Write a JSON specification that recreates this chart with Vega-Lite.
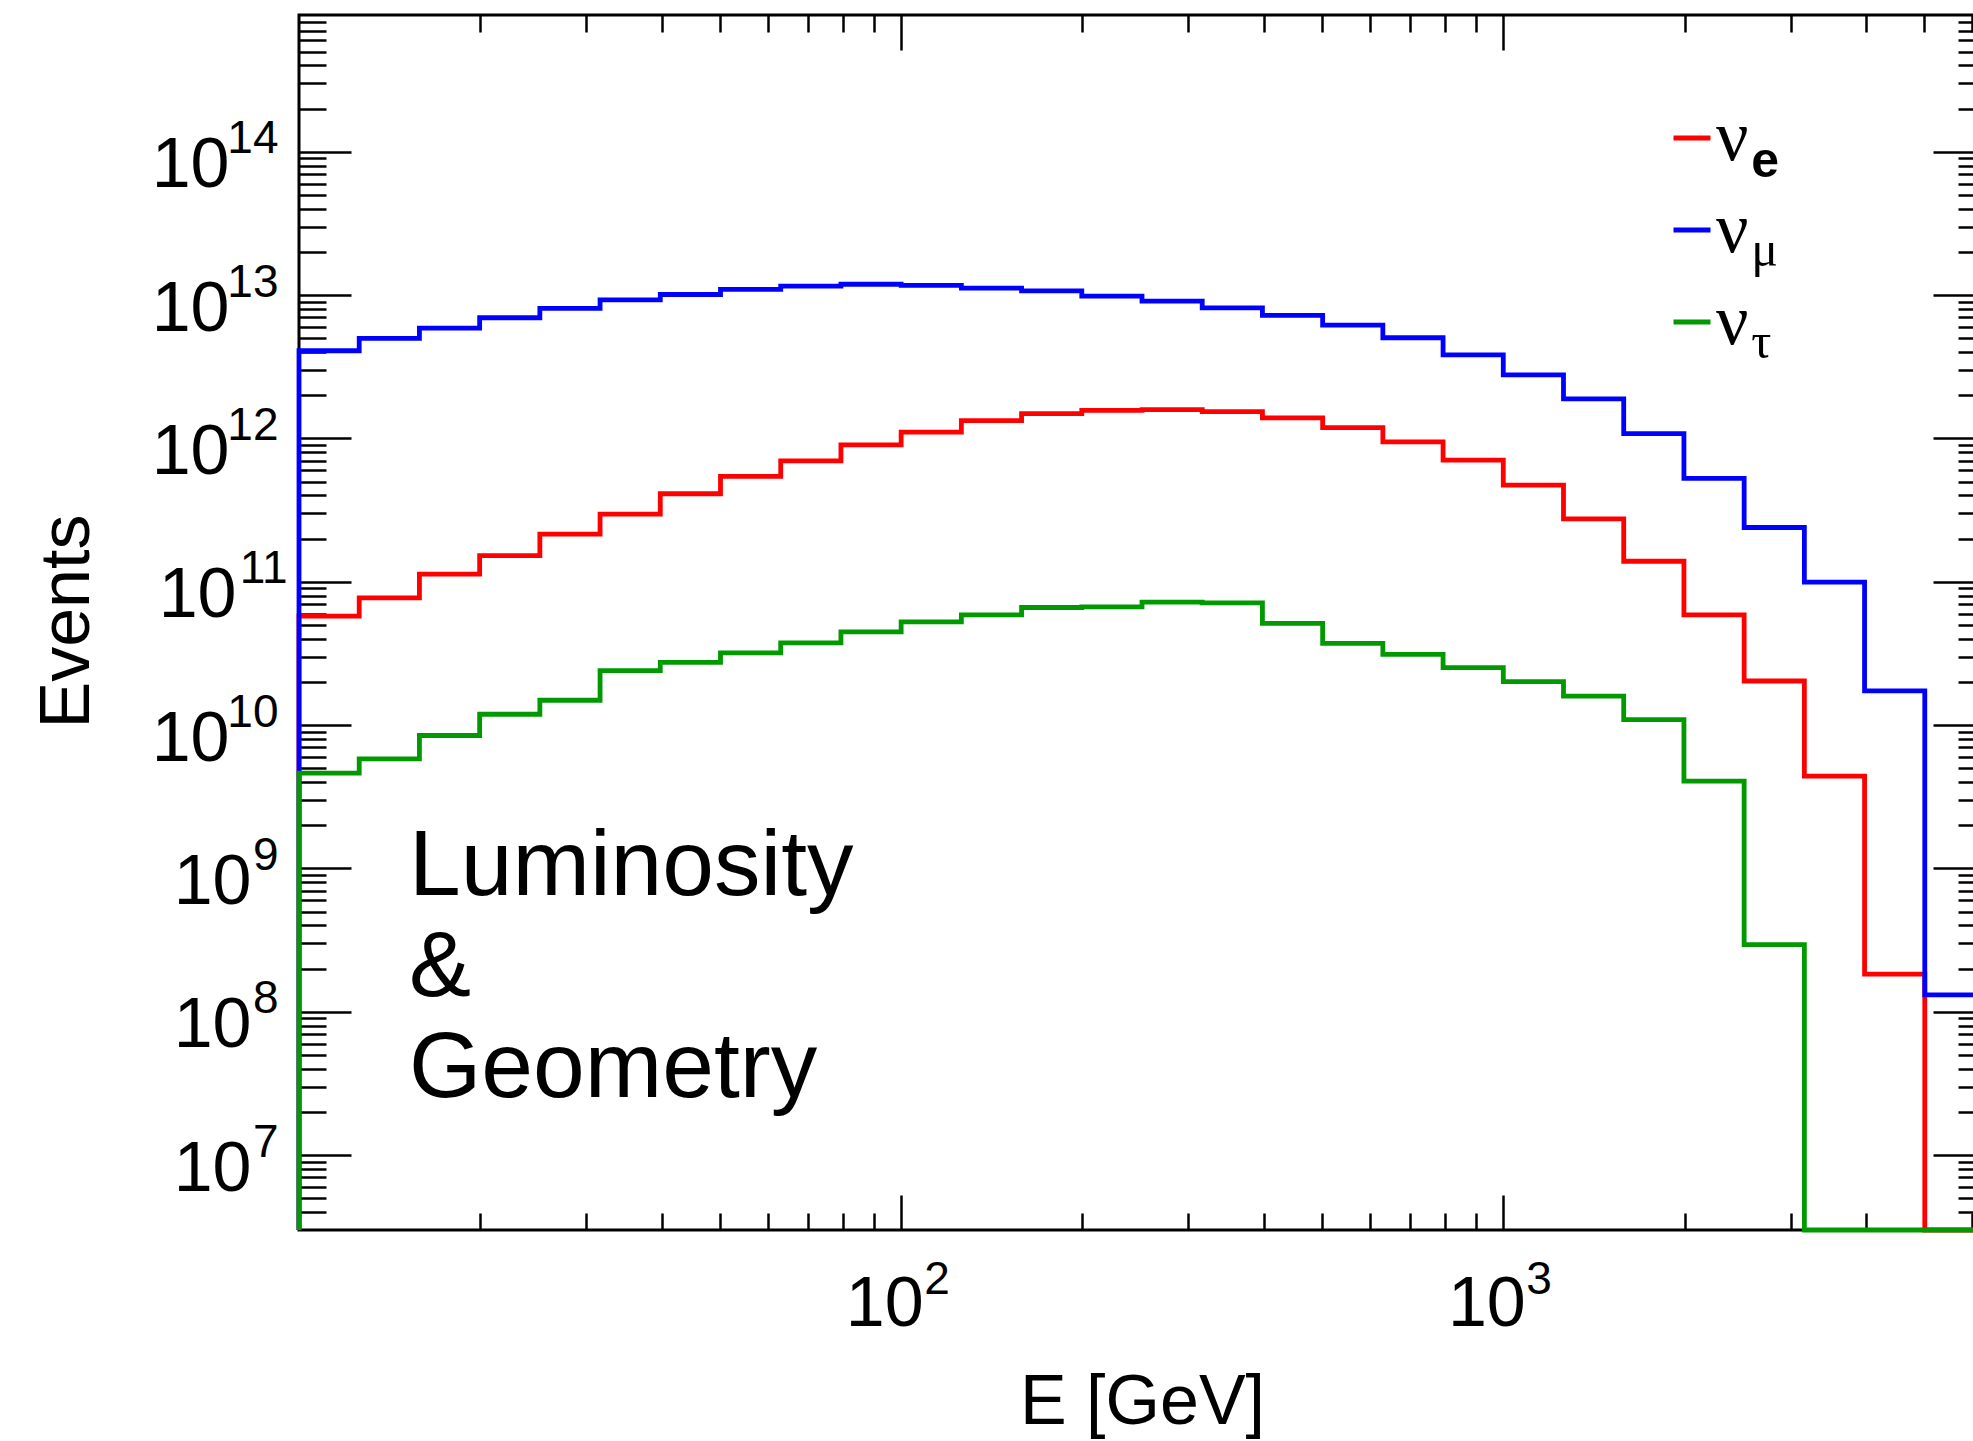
{
  "$schema": "https://vega.github.io/schema/vega-lite/v6.json",
  "width": 1686,
  "height": 1215,
  "autosize": {"type": "none"},
  "padding": {"left": 299, "top": 15, "right": -12, "bottom": 211},
  "background": "white",
  "config": {
    "view": {"stroke": "black", "strokeWidth": 3},
    "axis": {"labelFont": "Liberation Sans", "labelColor": "black", "tickColor": "black", "titleFont": "Liberation Sans", "titleColor": "black", "titleFontWeight": "normal", "grid": false, "domain": false, "labelOverlap": false, "labelFlush": false, "labelBound": false}
  },
  "datasets": {
    "hist": [
      {"flavor": "nu_e", "E": 10, "events": 0},
      {"flavor": "nu_e", "E": 10, "events": 5.75e10},
      {"flavor": "nu_e", "E": 12.589, "events": 7.72e10},
      {"flavor": "nu_e", "E": 15.849, "events": 1.13e11},
      {"flavor": "nu_e", "E": 19.953, "events": 1.52e11},
      {"flavor": "nu_e", "E": 25.119, "events": 2.15e11},
      {"flavor": "nu_e", "E": 31.623, "events": 2.96e11},
      {"flavor": "nu_e", "E": 39.811, "events": 4.11e11},
      {"flavor": "nu_e", "E": 50.119, "events": 5.43e11},
      {"flavor": "nu_e", "E": 63.096, "events": 6.98e11},
      {"flavor": "nu_e", "E": 79.433, "events": 9.02e11},
      {"flavor": "nu_e", "E": 100, "events": 1.107e12},
      {"flavor": "nu_e", "E": 125.89, "events": 1.33e12},
      {"flavor": "nu_e", "E": 158.49, "events": 1.49e12},
      {"flavor": "nu_e", "E": 199.53, "events": 1.57e12},
      {"flavor": "nu_e", "E": 251.19, "events": 1.59e12},
      {"flavor": "nu_e", "E": 316.23, "events": 1.54e12},
      {"flavor": "nu_e", "E": 398.11, "events": 1.39e12},
      {"flavor": "nu_e", "E": 501.19, "events": 1.19e12},
      {"flavor": "nu_e", "E": 630.96, "events": 9.46e11},
      {"flavor": "nu_e", "E": 794.33, "events": 7.06e11},
      {"flavor": "nu_e", "E": 1000, "events": 4.72e11},
      {"flavor": "nu_e", "E": 1258.9, "events": 2.75e11},
      {"flavor": "nu_e", "E": 1584.9, "events": 1.39e11},
      {"flavor": "nu_e", "E": 1995.3, "events": 5.88e10},
      {"flavor": "nu_e", "E": 2511.9, "events": 2.03e10},
      {"flavor": "nu_e", "E": 3162.3, "events": 4.4e9},
      {"flavor": "nu_e", "E": 3981.1, "events": 1.83e8},
      {"flavor": "nu_e", "E": 5011.9, "events": 0},
      {"flavor": "nu_e", "E": 6309.6, "events": 0},
      {"flavor": "nu_mu", "E": 10, "events": 0},
      {"flavor": "nu_mu", "E": 10, "events": 4.09e12},
      {"flavor": "nu_mu", "E": 12.589, "events": 4.99e12},
      {"flavor": "nu_mu", "E": 15.849, "events": 5.89e12},
      {"flavor": "nu_mu", "E": 19.953, "events": 6.95e12},
      {"flavor": "nu_mu", "E": 25.119, "events": 8.07e12},
      {"flavor": "nu_mu", "E": 31.623, "events": 9.27e12},
      {"flavor": "nu_mu", "E": 39.811, "events": 1.01e13},
      {"flavor": "nu_mu", "E": 50.119, "events": 1.096e13},
      {"flavor": "nu_mu", "E": 63.096, "events": 1.156e13},
      {"flavor": "nu_mu", "E": 79.433, "events": 1.19e13},
      {"flavor": "nu_mu", "E": 100, "events": 1.17e13},
      {"flavor": "nu_mu", "E": 125.89, "events": 1.12e13},
      {"flavor": "nu_mu", "E": 158.49, "events": 1.07e13},
      {"flavor": "nu_mu", "E": 199.53, "events": 9.84e12},
      {"flavor": "nu_mu", "E": 251.19, "events": 9.08e12},
      {"flavor": "nu_mu", "E": 316.23, "events": 8.15e12},
      {"flavor": "nu_mu", "E": 398.11, "events": 7.21e12},
      {"flavor": "nu_mu", "E": 501.19, "events": 6.18e12},
      {"flavor": "nu_mu", "E": 630.96, "events": 5.04e12},
      {"flavor": "nu_mu", "E": 794.33, "events": 3.83e12},
      {"flavor": "nu_mu", "E": 1000, "events": 2.78e12},
      {"flavor": "nu_mu", "E": 1258.9, "events": 1.89e12},
      {"flavor": "nu_mu", "E": 1584.9, "events": 1.08e12},
      {"flavor": "nu_mu", "E": 1995.3, "events": 5.26e11},
      {"flavor": "nu_mu", "E": 2511.9, "events": 2.39e11},
      {"flavor": "nu_mu", "E": 3162.3, "events": 9.93e10},
      {"flavor": "nu_mu", "E": 3981.1, "events": 1.73e10},
      {"flavor": "nu_mu", "E": 5011.9, "events": 1.31e8},
      {"flavor": "nu_mu", "E": 6309.6, "events": 1.31e8},
      {"flavor": "nu_tau", "E": 10, "events": 0},
      {"flavor": "nu_tau", "E": 10, "events": 4.62e9},
      {"flavor": "nu_tau", "E": 12.589, "events": 5.81e9},
      {"flavor": "nu_tau", "E": 15.849, "events": 8.46e9},
      {"flavor": "nu_tau", "E": 19.953, "events": 1.19e10},
      {"flavor": "nu_tau", "E": 25.119, "events": 1.49e10},
      {"flavor": "nu_tau", "E": 31.623, "events": 2.4e10},
      {"flavor": "nu_tau", "E": 39.811, "events": 2.74e10},
      {"flavor": "nu_tau", "E": 50.119, "events": 3.19e10},
      {"flavor": "nu_tau", "E": 63.096, "events": 3.75e10},
      {"flavor": "nu_tau", "E": 79.433, "events": 4.47e10},
      {"flavor": "nu_tau", "E": 100, "events": 5.25e10},
      {"flavor": "nu_tau", "E": 125.89, "events": 5.87e10},
      {"flavor": "nu_tau", "E": 158.49, "events": 6.61e10},
      {"flavor": "nu_tau", "E": 199.53, "events": 6.68e10},
      {"flavor": "nu_tau", "E": 251.19, "events": 7.21e10},
      {"flavor": "nu_tau", "E": 316.23, "events": 7.13e10},
      {"flavor": "nu_tau", "E": 398.11, "events": 5.12e10},
      {"flavor": "nu_tau", "E": 501.19, "events": 3.72e10},
      {"flavor": "nu_tau", "E": 630.96, "events": 3.11e10},
      {"flavor": "nu_tau", "E": 794.33, "events": 2.52e10},
      {"flavor": "nu_tau", "E": 1000, "events": 2.01e10},
      {"flavor": "nu_tau", "E": 1258.9, "events": 1.59e10},
      {"flavor": "nu_tau", "E": 1584.9, "events": 1.09e10},
      {"flavor": "nu_tau", "E": 1995.3, "events": 4.06e9},
      {"flavor": "nu_tau", "E": 2511.9, "events": 2.94e8},
      {"flavor": "nu_tau", "E": 3162.3, "events": 0},
      {"flavor": "nu_tau", "E": 3981.1, "events": 0},
      {"flavor": "nu_tau", "E": 5011.9, "events": 0},
      {"flavor": "nu_tau", "E": 6309.6, "events": 0}
    ]
  },
  "resolve": {"axis": {"x": "independent", "y": "independent"}},
  "layer": [
    {
      "data": {"name": "hist"},
      "mark": {"type": "line", "interpolate": "step-after", "strokeWidth": 4.8, "strokeJoin": "miter"},
      "encoding": {
        "x": {
          "field": "E", "type": "quantitative",
          "scale": {"type": "log", "domain": [10, 6309.6], "nice": false},
          "axis": {"orient": "bottom", "values": [100, 1000], "labelExpr": "'10'", "ticks": false, "labelFontSize": 70, "labelAlign": "right", "labelBaseline": "alphabetic", "labelPadding": 95, "labelOffset": 22, "title": "E [GeV]", "titleFontSize": 70, "titleBaseline": "alphabetic", "titleY": 193}
        },
        "y": {
          "field": "events", "type": "quantitative",
          "scale": {"type": "log", "domain": [3e6, 9e14], "nice": false, "clamp": true},
          "axis": {"orient": "left", "values": [1e7, 1e8, 1e9, 1e10, 1e11, 1e12, 1e13, 1e14], "labelExpr": "'10'", "ticks": false, "labelFontSize": 70, "labelAlign": "right", "labelBaseline": "alphabetic", "labelOffset": 35, "labelPadding": {"condition": [{"test": "datum.value == 1e11", "value": 63}, {"test": "datum.value >= 1e10", "value": 70}], "value": 48}, "title": "Events", "titleFontSize": 70, "titleAngle": 270, "titleAlign": "center", "titleBaseline": "alphabetic", "titleX": -211, "titleY": 606}
        },
        "color": {
          "field": "flavor", "type": "nominal",
          "scale": {"domain": ["nu_e", "nu_mu", "nu_tau"], "range": ["#ff0000", "#0000ff", "#009900"]},
          "legend": {"orient": "none", "legendX": 1357, "legendY": 87, "title": null, "padding": 0, "symbolType": "stroke", "symbolSize": 1369, "symbolStrokeWidth": 5, "labelFont": "Liberation Serif", "labelFontSize": 72, "labelColor": "black", "labelExpr": "'ν'", "labelOffset": -12, "rowPadding": 20}
        },
        "order": {"value": null}
      }
    },
    {
      "data": {"values": [{}]},
      "mark": {"type": "text", "text": ["Luminosity", "&", "Geometry"], "font": "Liberation Sans", "fontSize": 93, "lineHeight": 101, "align": "left", "baseline": "alphabetic", "color": "black"},
      "encoding": {
        "x": {"datum": 15.23, "type": "quantitative", "axis": {"orient": "bottom", "values": [100, 1000], "labelExpr": "format(round(log(datum.value)/LN10),'d')", "ticks": false, "labelFontSize": 46, "labelAlign": "left", "labelBaseline": "alphabetic", "labelPadding": 63, "labelOffset": 22.5, "title": null}},
        "y": {"datum": 6.5e8, "type": "quantitative", "axis": {"orient": "left", "values": [1e7, 1e8, 1e9, 1e10, 1e11, 1e12, 1e13, 1e14], "labelExpr": "format(round(log(datum.value)/LN10),'d')", "ticks": false, "labelFontSize": 46, "labelAlign": "right", "labelBaseline": "alphabetic", "labelPadding": {"condition": {"test": "datum.value == 1e11", "value": 12}, "value": 21}, "labelOffset": 1, "title": null}}
      }
    },
    {
      "data": {"values": [{}]},
      "mark": {"type": "text", "text": "e", "font": "Liberation Sans", "fontWeight": "bold", "fontSize": 50, "align": "left", "baseline": "alphabetic", "color": "black"},
      "encoding": {
        "x": {"datum": 2582, "type": "quantitative", "axis": {"orient": "bottom", "labels": false, "title": null, "tickWidth": 2.5, "values": [20, 30, 40, 50, 60, 70, 80, 90, 100, 200, 300, 400, 500, 600, 700, 800, 900, 1000, 2000, 3000, 4000, 5000, 6000], "tickSize": {"condition": {"test": "abs(log(datum.value)/LN10 - round(log(datum.value)/LN10)) < 0.001", "value": -35}, "value": -17}}},
        "y": {"datum": 6.66e13, "type": "quantitative", "axis": {"orient": "left", "labels": false, "title": null, "tickWidth": 2.5, "values": [4e6, 5e6, 6e6, 7e6, 8e6, 9e6, 1e7, 2e7, 3e7, 4e7, 5e7, 6e7, 7e7, 8e7, 9e7, 1e8, 2e8, 3e8, 4e8, 5e8, 6e8, 7e8, 8e8, 9e8, 1e9, 2e9, 3e9, 4e9, 5e9, 6e9, 7e9, 8e9, 9e9, 1e10, 2e10, 3e10, 4e10, 5e10, 6e10, 7e10, 8e10, 9e10, 1e11, 2e11, 3e11, 4e11, 5e11, 6e11, 7e11, 8e11, 9e11, 1e12, 2e12, 3e12, 4e12, 5e12, 6e12, 7e12, 8e12, 9e12, 1e13, 2e13, 3e13, 4e13, 5e13, 6e13, 7e13, 8e13, 9e13, 1e14, 2e14, 3e14, 4e14, 5e14, 6e14, 7e14, 8e14], "tickSize": {"condition": {"test": "abs(log(datum.value)/LN10 - round(log(datum.value)/LN10)) < 0.001", "value": -52}, "value": -27}}}
      }
    },
    {
      "data": {"values": [{}]},
      "mark": {"type": "text", "text": "μ", "font": "Liberation Serif", "fontSize": 50, "align": "left", "baseline": "alphabetic", "color": "black"},
      "encoding": {
        "x": {"datum": 2582, "type": "quantitative", "axis": {"orient": "top", "labels": false, "title": null, "tickWidth": 2.5, "values": [20, 30, 40, 50, 60, 70, 80, 90, 100, 200, 300, 400, 500, 600, 700, 800, 900, 1000, 2000, 3000, 4000, 5000, 6000], "tickSize": {"condition": {"test": "abs(log(datum.value)/LN10 - round(log(datum.value)/LN10)) < 0.001", "value": -35}, "value": -17}}},
        "y": {"datum": 1.594e13, "type": "quantitative", "axis": {"orient": "right", "labels": false, "title": null, "tickWidth": 2.5, "values": [4e6, 5e6, 6e6, 7e6, 8e6, 9e6, 1e7, 2e7, 3e7, 4e7, 5e7, 6e7, 7e7, 8e7, 9e7, 1e8, 2e8, 3e8, 4e8, 5e8, 6e8, 7e8, 8e8, 9e8, 1e9, 2e9, 3e9, 4e9, 5e9, 6e9, 7e9, 8e9, 9e9, 1e10, 2e10, 3e10, 4e10, 5e10, 6e10, 7e10, 8e10, 9e10, 1e11, 2e11, 3e11, 4e11, 5e11, 6e11, 7e11, 8e11, 9e11, 1e12, 2e12, 3e12, 4e12, 5e12, 6e12, 7e12, 8e12, 9e12, 1e13, 2e13, 3e13, 4e13, 5e13, 6e13, 7e13, 8e13, 9e13, 1e14, 2e14, 3e14, 4e14, 5e14, 6e14, 7e14, 8e14], "tickSize": {"condition": {"test": "abs(log(datum.value)/LN10 - round(log(datum.value)/LN10)) < 0.001", "value": -52}, "value": -27}}}
      }
    },
    {
      "data": {"values": [{}]},
      "mark": {"type": "text", "text": "τ", "font": "Liberation Serif", "fontSize": 50, "align": "left", "baseline": "alphabetic", "color": "black"},
      "encoding": {
        "x": {"datum": 2582, "type": "quantitative", "axis": null},
        "y": {"datum": 3.635e12, "type": "quantitative", "axis": null}
      }
    }
  ]
}
